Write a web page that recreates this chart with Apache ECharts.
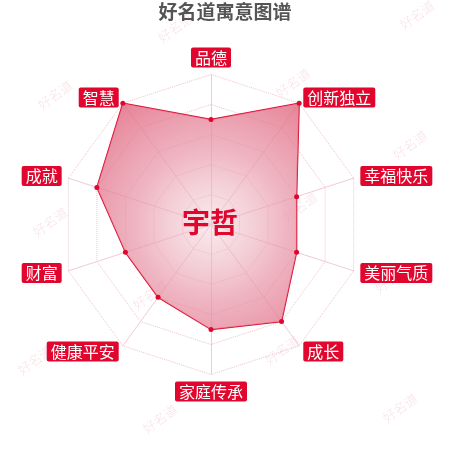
<!DOCTYPE html>
<html>
<head>
<meta charset="utf-8">
<script src="https://cdn.jsdelivr.net/npm/echarts@6/dist/echarts.min.js"></script>
<style>
  html, body { margin: 0; padding: 0; background: #fff; }
  #main { width: 450px; height: 450px; }
</style>
</head>
<body>
<div id="main"></div>
<script>
// 雷达图的维度（从顶部起逆时针）和分数
var indicatorNames = ['品德', '智慧', '成就', '财富', '健康平安', '家庭传承', '成长', '美丽气质', '幸福快乐', '创新独立'];
var scores = [70, 100, 80, 60, 60, 70, 80, 60, 60, 100];
var maxScore = 100;
var personName = '宇哲';
var chartTitle = '好名道寓意图谱';

var myChart = echarts.init(document.getElementById('main'));

var red = '#e0062d';
var font = '"Noto Sans CJK SC", "Noto Sans", sans-serif';

// 水印
var marks = [[175, 28], [417, 15], [55, 95], [293, 83], [410, 145], [300, 207], [50, 222],
             [150, 295], [392, 278], [35, 360], [282, 350], [160, 419], [400, 408]];
var graphics = marks.map(function (p) {
    return {
        type: 'text',
        x: p[0],
        y: p[1],
        rotation: Math.PI / 5,
        z: -10,
        silent: true,
        style: {
            text: '好名道',
            fontSize: 13,
            fontWeight: 'lighter',
            fontFamily: font,
            fill: 'rgba(225,140,160,0.38)',
            textAlign: 'center',
            textVerticalAlign: 'middle'
        }
    };
});
graphics.push({
    type: 'text',
    x: 210,
    y: 222,
    z: 100,
    style: {
        text: personName,
        fontSize: 28,
        fontWeight: 'bold',
        fontFamily: font,
        fill: red,
        textAlign: 'center',
        textVerticalAlign: 'middle'
    }
});

var option = {
    backgroundColor: '#fff',
    title: {
        text: chartTitle,
        left: 'center',
        top: -3,
        textStyle: {
            fontSize: 19,
            fontWeight: 'bold',
            color: '#555',
            fontFamily: font
        }
    },
    graphic: graphics,
    radar: {
        center: [211, 224.5],
        radius: 150,
        splitNumber: 5,
        nameGap: 7,
        indicator: indicatorNames.map(function (n) {
            return { name: n, max: maxScore };
        }),
        axisName: {
            color: '#fff',
            backgroundColor: red,
            borderRadius: 2,
            padding: [2, 4],
            fontSize: 16,
            fontFamily: font
        },
        axisLine: {
            lineStyle: { color: '#f1cbd3', width: 1 }
        },
        splitLine: {
            lineStyle: { color: '#efc3cd', type: 'dotted', width: 1 }
        },
        splitArea: { show: false }
    },
    series: [
        {
            type: 'radar',
            symbol: 'circle',
            symbolSize: 5,
            itemStyle: { color: red },
            lineStyle: { color: red, width: 1.4 },
            areaStyle: {
                opacity: 1,
                color: {
                    type: 'radial',
                    x: 211,
                    y: 224.5,
                    r: 150,
                    global: true,
                    colorStops: [
                        { offset: 0, color: 'rgba(240,200,210,0.4)' },
                        { offset: 0.5, color: 'rgba(232,150,168,0.7)' },
                        { offset: 1, color: 'rgba(224,100,125,0.8)' }
                    ]
                }
            },
            data: [
                { value: scores, name: personName }
            ]
        }
    ]
};

myChart.setOption(option);
</script>
</body>
</html>
